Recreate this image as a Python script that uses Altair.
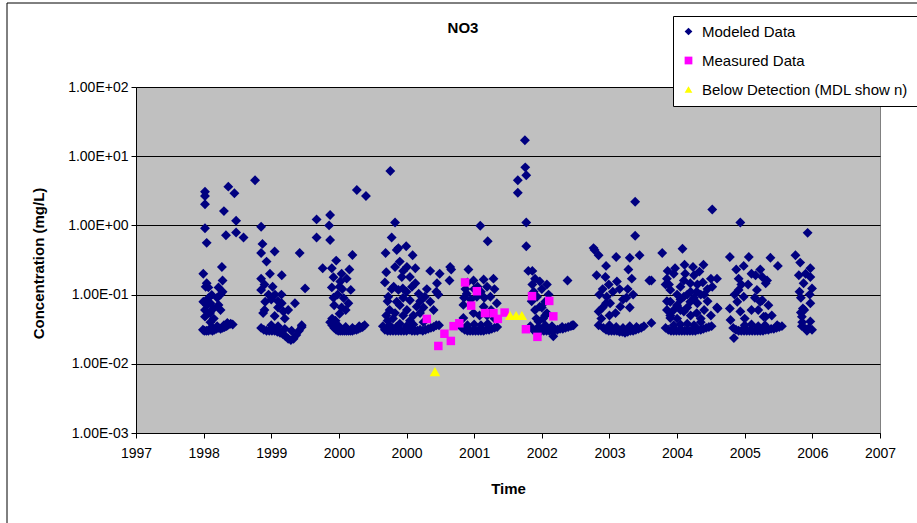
import altair as alt
import pandas as pd

# ---------------- axis ticks / labels ----------------
x_tick_values = list(range(1997, 2009))
x_tick_labels = ["1997", "1998", "1999", "2000", "2000", "2001", "2002",
                 "2003", "2004", "2005", "2006", "2007"]
y_tick_values = [0.001, 0.01, 0.1, 1, 10, 100]
y_tick_labels = ["1.00E-03", "1.00E-02", "1.00E-01", "1.00E+00", "1.00E+01", "1.00E+02"]

series_names = ["Modeled Data", "Measured Data", "Below  Detection (MDL show n)"]
series_colors = ["#000080", "#FF00FF", "#FFFF00"]
series_shapes = ["diamond", "square", "triangle-up"]
series_sizes = [98, 72, 110]

# ---------------- modeled data, by yearly cluster: [time, concentration] ----------------
modeled_1998 = [
    [1998.02, 3.07], [1998.02, 2.66], [1998.02, 2.02], [1998.365, 3.63], [1998.455, 2.91],
    [1998.76, 4.5], [1998.30, 1.61], [1998.48, 1.17], [1998.02, 0.91], [1998.33, 0.72],
    [1998.48, 0.79], [1998.59, 0.67], [1998.045, 0.56], [1998.27, 0.25], [1997.995, 0.20],
    [1998.28, 0.16], [1998.045, 0.146], [1998.07, 0.127], [1998.22, 0.127], [1998.28, 0.11],
    [1998.12, 0.099], [1997.995, 0.079], [1998.07, 0.089], [1998.22, 0.071], [1998.145, 0.063],
    [1998.02, 0.06], [1998.02, 0.048], [1998.095, 0.054], [1998.25, 0.10], [1998.05, 0.07],
    [1998.10, 0.04], [1998.03, 0.13], [1998.10, 0.075], [1998.15, 0.045], [1998.20, 0.09],
    [1998.25, 0.06],
    [1997.99, 0.031], [1998.01, 0.030], [1998.04, 0.030], [1998.07, 0.030], [1998.10, 0.031],
    [1998.13, 0.030], [1998.16, 0.031], [1998.19, 0.032], [1998.22, 0.033], [1998.25, 0.032],
    [1998.28, 0.033], [1998.31, 0.034], [1998.34, 0.035], [1998.37, 0.037], [1998.40, 0.038],
    [1998.43, 0.037], [1998.20, 0.035], [1998.30, 0.036], [1998.12, 0.034], [1998.35, 0.039],
]
modeled_1999 = [
    [1998.85, 0.955], [1998.87, 0.54], [1998.85, 0.40], [1999.05, 0.42], [1998.93, 0.30],
    [1999.42, 0.40], [1998.85, 0.17], [1998.98, 0.20], [1999.155, 0.19], [1998.85, 0.117],
    [1998.96, 0.10], [1999.055, 0.10], [1998.91, 0.079], [1999.155, 0.075], [1999.35, 0.075],
    [1998.88, 0.054], [1999.05, 0.049], [1999.18, 0.057], [1999.50, 0.123], [1999.45, 0.036],
    [1998.90, 0.14], [1999.00, 0.085], [1999.10, 0.065], [1998.90, 0.06], [1999.02, 0.13],
    [1999.10, 0.08], [1999.20, 0.045], [1999.25, 0.06], [1999.15, 0.10],
    [1998.85, 0.033], [1998.89, 0.031], [1998.93, 0.030], [1998.97, 0.030], [1999.01, 0.030],
    [1999.05, 0.030], [1999.09, 0.029], [1999.13, 0.028], [1999.17, 0.027], [1999.21, 0.025],
    [1999.25, 0.023], [1999.29, 0.022], [1999.33, 0.023], [1999.37, 0.026], [1999.41, 0.030],
    [1999.45, 0.034], [1999.00, 0.036], [1999.10, 0.035], [1999.20, 0.032], [1999.30, 0.030],
]
modeled_2000 = [
    [2000.265, 3.25], [2000.40, 2.66], [1999.67, 1.22], [1999.87, 1.41], [1999.855, 1.0],
    [1999.67, 0.67], [1999.87, 0.615], [2000.20, 0.373], [1999.96, 0.31], [1999.76, 0.24],
    [1999.895, 0.24], [2000.155, 0.23], [2000.04, 0.20], [1999.92, 0.178], [2000.115, 0.17],
    [2000.02, 0.155], [1999.895, 0.127], [2000.01, 0.13], [2000.175, 0.117], [2000.07, 0.089],
    [2000.14, 0.075], [2000.04, 0.065], [2000.01, 0.053], [1999.90, 0.045], [1999.95, 0.042],
    [1999.92, 0.09], [1999.98, 0.10], [2000.05, 0.12], [2000.10, 0.06], [1999.93, 0.07],
    [1999.87, 0.040], [1999.90, 0.036], [1999.93, 0.033], [1999.96, 0.031], [1999.99, 0.030],
    [2000.02, 0.030], [2000.05, 0.030], [2000.08, 0.030], [2000.11, 0.030], [2000.14, 0.030],
    [2000.17, 0.030], [2000.20, 0.030], [2000.23, 0.031], [2000.26, 0.031], [2000.29, 0.032],
    [2000.32, 0.033], [2000.35, 0.034], [2000.38, 0.036], [2000.00, 0.035], [2000.10, 0.034],
    [2000.20, 0.033], [2000.30, 0.035],
]
modeled_2001 = [
    [2000.76, 6.1], [2000.83, 1.1], [2000.78, 0.67], [2000.69, 0.40], [2000.88, 0.47],
    [2000.995, 0.50], [2000.855, 0.44], [2001.09, 0.37], [2000.83, 0.25], [2000.70, 0.21],
    [2001.005, 0.25], [2001.13, 0.24], [2000.93, 0.18], [2001.05, 0.18], [2000.81, 0.13],
    [2000.945, 0.123], [2001.13, 0.146], [2001.18, 0.103], [2000.855, 0.079], [2001.05, 0.083],
    [2001.27, 0.093], [2001.35, 0.079], [2001.005, 0.06], [2001.15, 0.067], [2000.83, 0.054],
    [2001.20, 0.054], [2001.35, 0.22], [2001.49, 0.20], [2001.45, 0.146], [2001.44, 0.11],
    [2001.47, 0.10], [2001.645, 0.25], [2001.635, 0.16], [2001.66, 0.23], [2000.73, 0.093],
    [2000.88, 0.117], [2000.70, 0.05], [2000.75, 0.06], [2000.72, 0.042],
    [2000.72, 0.08], [2000.78, 0.12], [2000.90, 0.07], [2000.95, 0.09], [2001.00, 0.11],
    [2001.08, 0.13], [2001.10, 0.05], [2001.20, 0.08], [2001.25, 0.065], [2001.30, 0.12],
    [2000.80, 0.045], [2000.95, 0.05], [2001.05, 0.042], [2001.40, 0.06], [2000.68, 0.15],
    [2000.90, 0.30], [2000.95, 0.22],
    [2000.65, 0.035], [2000.68, 0.031], [2000.72, 0.030], [2000.76, 0.030], [2000.80, 0.030],
    [2000.84, 0.030], [2000.88, 0.030], [2000.92, 0.030], [2000.96, 0.030], [2001.00, 0.030],
    [2001.04, 0.031], [2001.08, 0.030], [2001.12, 0.030], [2001.16, 0.030], [2001.20, 0.031],
    [2001.24, 0.030], [2001.28, 0.031], [2001.32, 0.032], [2001.36, 0.033], [2001.40, 0.034],
    [2001.44, 0.036], [2001.48, 0.036], [2000.75, 0.036], [2000.90, 0.038], [2001.10, 0.037],
    [2001.25, 0.040], [2000.85, 0.034], [2001.00, 0.035],
]
modeled_2002 = [
    [2002.09, 0.99], [2002.20, 0.59], [2001.915, 0.23], [2001.99, 0.16], [2002.14, 0.165],
    [2002.285, 0.17], [2002.19, 0.13], [2001.89, 0.103], [2002.04, 0.093], [2002.24, 0.093],
    [2002.335, 0.075], [2001.84, 0.071], [2002.14, 0.067], [2001.99, 0.054], [2002.19, 0.05],
    [2001.84, 0.046], [2001.87, 0.12], [2001.95, 0.085], [2002.05, 0.13], [2002.10, 0.11],
    [2002.30, 0.12], [2001.85, 0.09], [2001.90, 0.15], [2002.00, 0.12], [2002.15, 0.09],
    [2002.25, 0.06], [2002.30, 0.045], [2002.08, 0.05],
    [2001.82, 0.033], [2001.86, 0.031], [2001.90, 0.030], [2001.94, 0.030], [2001.98, 0.030],
    [2002.02, 0.030], [2002.06, 0.030], [2002.10, 0.030], [2002.14, 0.030], [2002.18, 0.031],
    [2002.22, 0.031], [2002.26, 0.032], [2002.30, 0.033], [2002.34, 0.034], [2001.90, 0.036],
    [2002.00, 0.037], [2002.10, 0.036], [2002.20, 0.038],
]
modeled_2003 = [
    [2002.75, 17.0], [2002.755, 6.9], [2002.77, 5.3], [2002.645, 4.5], [2002.645, 2.96],
    [2002.77, 1.1], [2002.77, 0.50], [2002.80, 0.22], [2002.86, 0.22], [2002.86, 0.14],
    [2002.97, 0.155], [2003.075, 0.14], [2003.38, 0.16], [2002.93, 0.093], [2003.05, 0.079],
    [2002.90, 0.06], [2003.075, 0.054], [2002.97, 0.067], [2003.17, 0.025], [2002.88, 0.11],
    [2003.00, 0.12], [2003.10, 0.10], [2003.02, 0.045], [2002.95, 0.041],
    [2002.85, 0.08], [2002.90, 0.17], [2003.00, 0.065], [2003.05, 0.05], [2002.92, 0.045],
    [2002.83, 0.035], [2002.87, 0.031], [2002.91, 0.030], [2002.95, 0.030], [2002.99, 0.030],
    [2003.03, 0.030], [2003.07, 0.030], [2003.11, 0.030], [2003.15, 0.030], [2003.19, 0.031],
    [2003.23, 0.031], [2003.27, 0.032], [2003.31, 0.032], [2003.35, 0.033], [2003.39, 0.034],
    [2003.43, 0.035], [2003.47, 0.036], [2002.95, 0.034], [2003.05, 0.036], [2003.15, 0.035],
    [2003.30, 0.034],
]
modeled_2004 = [
    [2004.38, 2.2], [2004.38, 0.71], [2003.78, 0.44], [2003.84, 0.37], [2004.10, 0.35],
    [2004.30, 0.34], [2004.445, 0.37], [2003.95, 0.26], [2004.28, 0.23], [2003.81, 0.19],
    [2003.94, 0.18], [2004.11, 0.155], [2004.33, 0.17], [2004.59, 0.16], [2003.99, 0.14],
    [2004.27, 0.12], [2003.96, 0.093], [2004.01, 0.075], [2004.16, 0.067], [2003.84, 0.057],
    [2004.09, 0.054], [2003.84, 0.036], [2003.765, 0.47], [2004.62, 0.16], [2004.62, 0.039],
    [2003.45, 0.036], [2004.05, 0.11], [2004.20, 0.085], [2003.90, 0.065],
    [2003.85, 0.10], [2003.90, 0.12], [2003.95, 0.075], [2004.00, 0.05], [2003.88, 0.045],
    [2004.15, 0.12], [2004.25, 0.09], [2004.30, 0.065], [2004.35, 0.10],
    [2003.91, 0.033], [2003.95, 0.031], [2003.99, 0.030], [2004.03, 0.030], [2004.07, 0.030],
    [2004.11, 0.030], [2004.15, 0.029], [2004.19, 0.029], [2004.23, 0.028], [2004.27, 0.029],
    [2004.31, 0.030], [2004.35, 0.030], [2004.39, 0.031], [2004.43, 0.032], [2004.47, 0.033],
    [2004.51, 0.035], [2004.00, 0.036], [2004.10, 0.034], [2004.20, 0.033], [2004.30, 0.035],
    [2004.40, 0.034],
]
modeled_2005 = [
    [2004.78, 0.40], [2005.08, 0.46], [2005.52, 1.7], [2004.97, 0.24], [2005.11, 0.27],
    [2005.235, 0.25], [2005.39, 0.27], [2005.33, 0.215], [2005.59, 0.17], [2004.85, 0.17],
    [2005.10, 0.16], [2005.195, 0.146], [2005.38, 0.15], [2005.52, 0.13], [2004.90, 0.117],
    [2005.29, 0.11], [2005.10, 0.093], [2004.90, 0.079], [2005.195, 0.079], [2005.59, 0.065],
    [2004.85, 0.06], [2005.10, 0.057], [2005.29, 0.054], [2004.90, 0.046], [2005.60, 0.063],
    [2004.95, 0.20], [2005.05, 0.13], [2005.25, 0.09], [2005.40, 0.10], [2004.88, 0.14],
    [2005.00, 0.07], [2004.85, 0.08], [2004.90, 0.05], [2005.00, 0.045], [2005.05, 0.06],
    [2005.15, 0.10], [2005.20, 0.05], [2005.30, 0.075], [2005.35, 0.045], [2005.45, 0.12],
    [2005.50, 0.05], [2004.83, 0.14], [2004.86, 0.22], [2005.12, 0.20], [2005.40, 0.06],
    [2005.00, 0.10], [2005.05, 0.085], [2005.20, 0.11], [2005.25, 0.19], [2005.30, 0.14],
    [2005.45, 0.08], [2005.50, 0.17], [2004.95, 0.06], [2005.15, 0.065], [2005.35, 0.10],
    [2004.83, 0.033], [2004.87, 0.031], [2004.91, 0.030], [2004.95, 0.030], [2004.99, 0.030],
    [2005.03, 0.030], [2005.07, 0.030], [2005.11, 0.030], [2005.15, 0.030], [2005.19, 0.030],
    [2005.23, 0.030], [2005.27, 0.030], [2005.31, 0.031], [2005.35, 0.031], [2005.39, 0.032],
    [2005.43, 0.033], [2005.47, 0.034], [2005.51, 0.035], [2004.95, 0.036], [2005.05, 0.037],
    [2005.15, 0.038], [2005.25, 0.036], [2005.35, 0.040],
]
modeled_2006 = [
    [2005.935, 1.1], [2005.78, 0.35], [2006.06, 0.35], [2006.38, 0.34], [2006.49, 0.26],
    [2005.985, 0.26], [2005.875, 0.23], [2006.23, 0.23], [2006.16, 0.19], [2005.91, 0.17],
    [2006.33, 0.16], [2005.91, 0.117], [2006.18, 0.117], [2005.985, 0.093], [2006.23, 0.079],
    [2005.78, 0.063], [2005.89, 0.079], [2005.935, 0.057], [2006.28, 0.048], [2005.79, 0.043],
    [2005.84, 0.0235], [2006.26, 0.18], [2006.31, 0.146], [2006.26, 0.083], [2006.31, 0.048],
    [2006.48, 0.036], [2006.05, 0.14], [2006.10, 0.06], [2006.00, 0.045],
    [2005.85, 0.10], [2005.95, 0.14], [2006.10, 0.20], [2006.15, 0.09], [2006.20, 0.06],
    [2006.35, 0.07], [2006.40, 0.05],
    [2005.83, 0.033], [2005.87, 0.031], [2005.91, 0.030], [2005.95, 0.030], [2005.99, 0.030],
    [2006.03, 0.030], [2006.07, 0.030], [2006.11, 0.030], [2006.15, 0.030], [2006.19, 0.030],
    [2006.23, 0.030], [2006.27, 0.030], [2006.31, 0.031], [2006.35, 0.031], [2006.39, 0.032],
    [2006.43, 0.032], [2006.47, 0.033], [2006.51, 0.034], [2006.55, 0.035], [2006.00, 0.036],
    [2006.10, 0.037], [2006.20, 0.035], [2006.30, 0.036],
]
modeled_2007 = [
    [2006.93, 0.78], [2006.75, 0.37], [2006.82, 0.29], [2006.97, 0.24], [2006.80, 0.19],
    [2006.97, 0.18], [2006.87, 0.146], [2006.995, 0.123], [2006.81, 0.11], [2006.97, 0.075],
    [2006.86, 0.063], [2006.845, 0.048], [2006.97, 0.041], [2006.845, 0.035], [2006.92, 0.030],
    [2006.995, 0.031], [2006.83, 0.09], [2006.85, 0.04], [2006.90, 0.032], [2006.95, 0.033],
    [2006.88, 0.06], [2006.83, 0.055], [2006.90, 0.20], [2006.96, 0.10],
]

measured = [
    [2001.30, 0.0445], [2001.47, 0.0181], [2001.56, 0.0272], [2001.655, 0.0214],
    [2001.695, 0.035], [2001.78, 0.0385], [2001.865, 0.15], [2002.04, 0.112],
    [2001.955, 0.0693], [2002.16, 0.054], [2002.285, 0.054], [2002.35, 0.0445],
    [2002.45, 0.055], [2002.855, 0.095], [2003.11, 0.081], [2003.17, 0.0485],
    [2002.765, 0.0316], [2002.935, 0.0245],
]
below_detection = [
    [2001.42, 0.0077], [2002.53, 0.050], [2002.62, 0.050], [2002.705, 0.050],
]

modeled_clusters = [modeled_1998, modeled_1999, modeled_2000, modeled_2001, modeled_2002,
                    modeled_2003, modeled_2004, modeled_2005, modeled_2006, modeled_2007]

rows = []
for cluster in modeled_clusters:
    for t, c in cluster:
        rows.append({"time": t, "conc": c, "series": series_names[0]})
for t, c in measured:
    rows.append({"time": t, "conc": c, "series": series_names[1]})
for t, c in below_detection:
    rows.append({"time": t, "conc": c, "series": series_names[2]})
df = pd.DataFrame(rows)
df["idx"] = range(len(df))

FONT = "Liberation Sans"

x_label_expr = "[" + ",".join("'%s'" % s for s in x_tick_labels) + "][round(datum.value) - 1997]"
y_label_expr = "[" + ",".join("'%s'" % s for s in y_tick_labels) + "][round(log(datum.value) / LN10) + 3]"

legend = alt.Legend(
    orient="none", legendX=537, legendY=-71, title=None,
    fillColor="white", strokeColor="black", padding=8,
    labelFont=FONT, labelFontSize=15, labelColor="black", labelLimit=400,
    labelOffset=6, rowPadding=13, symbolSize=60, symbolStrokeWidth=0,
    symbolOpacity=1,
)

size_encoding = {
    "condition": [
        {"test": "datum.series === '%s'" % series_names[0], "value": series_sizes[0]},
        {"test": "datum.series === '%s'" % series_names[1], "value": series_sizes[1]},
    ],
    "value": series_sizes[2],
}

points = alt.Chart(df).mark_point(filled=True, opacity=1, strokeWidth=0).encode(
    x=alt.X("time:Q",
            scale=alt.Scale(domain=[1997, 2008], nice=False, zero=False),
            axis=alt.Axis(values=x_tick_values, labelExpr=x_label_expr, title="Time",
                          grid=False, tickSize=5, labelPadding=8, labelFlush=False,
                          titleX=372, titleY=55, titleBaseline="middle",
                          titleFontSize=15, titleFontWeight="bold")),
    y=alt.Y("conc:Q",
            scale=alt.Scale(type="log", domain=[0.001, 100], nice=False),
            axis=alt.Axis(values=y_tick_values, labelExpr=y_label_expr,
                          title="Concentration (mg/L)", grid=True, tickSize=5,
                          labelPadding=3, labelFlush=False, titleX=-98, titleY=176,
                          titleAngle=270, titleAlign="center", titleBaseline="middle",
                          titleFontSize=15, titleFontWeight="bold")),
    color=alt.Color("series:N", scale=alt.Scale(domain=series_names, range=series_colors),
                    legend=legend),
    shape=alt.Shape("series:N", scale=alt.Scale(domain=series_names, range=series_shapes),
                    legend=legend),
    size=size_encoding,
    order=alt.Order("idx:Q"),
)

title_df = pd.DataFrame({"t": ["NO3"]})
title_mark = alt.Chart(title_df).mark_text(
    font=FONT, fontSize=15, fontWeight="bold", color="black", align="center", baseline="middle"
).encode(text="t:N", x=alt.value(327), y=alt.value(-59))

frame_df = pd.DataFrame({"k": [0]})
left_border = alt.Chart(frame_df).mark_rule(color="black", strokeWidth=1).encode(
    x=alt.value(-129), y=alt.value(-84), y2=alt.value(446))
top_border = alt.Chart(frame_df).mark_rule(color="black", strokeWidth=1).encode(
    x=alt.value(-129), x2=alt.value(790), y=alt.value(-84))

chart = alt.layer(points, title_mark, left_border, top_border).properties(
    width=744, height=346,
    autosize=alt.AutoSizeParams(type="none"),
    padding={"left": 136, "top": 87, "right": 37, "bottom": 90},
    background="white",
).configure_view(
    fill="#C0C0C0", stroke="#808080", strokeWidth=1
).configure_axis(
    labelFont=FONT, labelFontSize=14, labelColor="black",
    titleFont=FONT, titleColor="black",
    domainColor="black", tickColor="black", gridColor="black", gridWidth=1,
    domainWidth=1, tickWidth=1,
)

chart.save("out.html", embed_options={"renderer": "svg", "actions": False})
